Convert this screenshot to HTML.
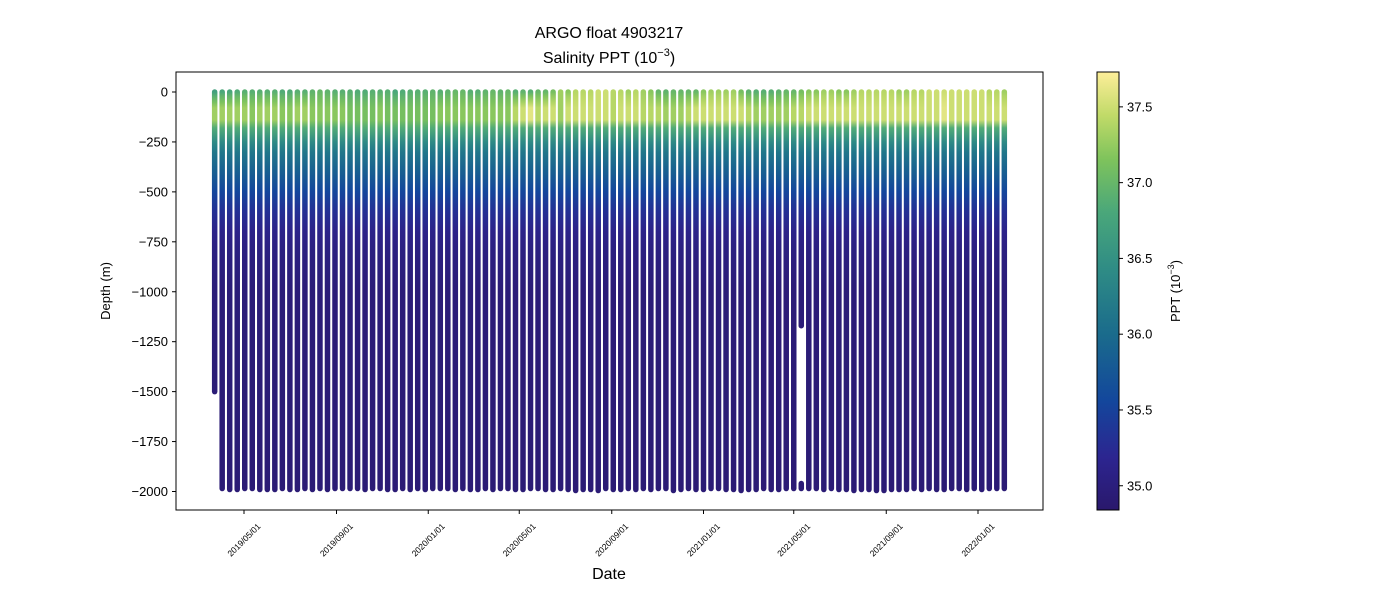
<!DOCTYPE html>
<html><head><meta charset="utf-8"><style>
body{margin:0;background:#fff;width:1400px;height:600px;overflow:hidden}
svg text{font-family:"Liberation Sans","DejaVu Sans",sans-serif;fill:#000}
</style></head><body>
<svg id="chart" width="1400" height="600" xmlns="http://www.w3.org/2000/svg">
<defs id="defs">
<linearGradient id="cbar" x1="0" y1="1" x2="0" y2="0">
<stop offset="0" stop-color="#2a186c"/><stop offset="0.12" stop-color="#2c2590"/><stop offset="0.25" stop-color="#13479c"/><stop offset="0.4" stop-color="#1a6b8c"/><stop offset="0.55" stop-color="#2f8c85"/><stop offset="0.68" stop-color="#4aa77a"/><stop offset="0.8" stop-color="#7ec35c"/><stop offset="0.9" stop-color="#c0da68"/><stop offset="1" stop-color="#fdee99"/>
</linearGradient>
</defs>
<text x="609" y="38" font-size="16" text-anchor="middle">ARGO float 4903217</text>
<text x="609" y="63" font-size="16" text-anchor="middle">Salinity PPT (10<tspan font-size="11" dy="-7">−3</tspan><tspan dy="7">)</tspan></text>
<g id="plot"></g>
<rect x="176" y="72" width="867" height="438" fill="none" stroke="#000" stroke-width="1"/>
<g id="yaxis"></g>
<g id="xaxis"></g>
<text transform="translate(110,291) rotate(-90)" font-size="13" text-anchor="middle">Depth (m)</text>
<text x="609" y="579" font-size="16" text-anchor="middle">Date</text>
<rect x="1097" y="72" width="22" height="438" fill="url(#cbar)" stroke="#000" stroke-width="1"/>
<g id="cbaxis"></g>
<text transform="translate(1180,291) rotate(-90)" font-size="13" text-anchor="middle">PPT (10<tspan font-size="9" dy="-6">−3</tspan><tspan dy="6">)</tspan></text>
</svg>
<script>
const NS="http://www.w3.org/2000/svg";
const nProfiles=106;
const startDate=Date.UTC(2019,2,23);
const cycleDays=10;
const depthLevels=[0,-20,-50,-80,-110,-140,-180,-250,-300,-400,-500,-600,-700,-800,-1000,-1500,-2000];
const deepSal=[null,null,null,null,null,null,36.85,36.4,36.15,35.85,35.55,35.3,35.12,35.03,34.96,34.94,34.93];
const surfSal=[36.7,36.8,36.8,36.85,36.9,36.9,36.9,36.9,36.9,36.85,36.85,36.9,36.9,36.95,37.0,36.95,36.9,36.9,36.9,36.85,36.85,36.9,36.9,36.9,36.8,36.85,36.9,36.9,36.9,36.95,36.9,36.95,37.0,37.0,36.9,36.9,36.95,37.0,36.95,37.0,36.9,36.95,36.9,37.0,37.0,37.1,37.3,37.2,37.4,37.4,37.4,37.5,37.5,37.4,37.4,37.3,37.4,37.3,37.2,37.0,36.95,37.0,37.0,37.0,37.0,37.2,37.3,37.3,37.3,37.3,37.1,36.95,36.9,36.9,36.9,36.95,37.0,37.0,37.1,37.2,37.2,37.3,37.3,37.2,37.2,37.3,37.4,37.4,37.4,37.4,37.4,37.3,37.3,37.4,37.4,37.5,37.5,37.5,37.5,37.5,37.5,37.5,37.5,37.4,37.4,37.3];
const peakSal=[37.3,37.3,37.3,37.3,37.3,37.2,37.3,37.3,37.3,37.2,37.2,37.3,37.3,37.2,37.2,37.2,37.2,37.2,37.1,37.1,37.1,37.1,37.2,37.1,37.1,37.1,37.1,37.1,37.1,37.1,37.2,37.2,37.2,37.2,37.2,37.2,37.2,37.2,37.2,37.2,37.4,37.5,37.6,37.4,37.5,37.5,37.3,37.5,37.5,37.5,37.5,37.5,37.5,37.4,37.5,37.5,37.5,37.4,37.4,37.4,37.3,37.3,37.3,37.4,37.5,37.5,37.5,37.5,37.5,37.5,37.5,37.4,37.3,37.3,37.3,37.3,37.3,37.4,37.4,37.5,37.5,37.5,37.5,37.5,37.5,37.5,37.5,37.5,37.5,37.5,37.5,37.5,37.5,37.5,37.5,37.5,37.5,37.6,37.5,37.5,37.5,37.5,37.5,37.5,37.5,37.5];
const bottomDepth=[-1500,-1985,-1990,-1990,-1985,-1985,-1990,-1990,-1990,-1985,-1990,-1990,-1985,-1990,-1985,-1990,-1985,-1985,-1985,-1985,-1990,-1985,-1985,-1990,-1990,-1985,-1990,-1985,-1990,-1985,-1985,-1985,-1990,-1985,-1990,-1990,-1985,-1990,-1985,-1985,-1990,-1990,-1985,-1985,-1990,-1990,-1985,-1990,-1995,-1990,-1990,-1995,-1985,-1990,-1990,-1985,-1990,-1985,-1990,-1985,-1985,-1995,-1990,-1985,-1990,-1990,-1985,-1985,-1990,-1990,-1995,-1990,-1990,-1985,-1990,-1990,-1985,-1985,-1985,-1985,-1985,-1990,-1985,-1990,-1990,-1995,-1990,-1990,-1995,-1995,-1990,-1990,-1990,-1985,-1990,-1985,-1990,-1990,-1985,-1985,-1990,-1985,-1990,-1985,-1985,-1985];
const gapProfile=78, gapTop=-1170, gapBottom=-1960;
const yTicks=[0,-250,-500,-750,-1000,-1250,-1500,-1750,-2000];
const xTickLabels=["2019/05/01","2019/09/01","2020/01/01","2020/05/01","2020/09/01","2021/01/01","2021/05/01","2021/09/01","2022/01/01"];
const cbTicks=[35.0,35.5,36.0,36.5,37.0,37.5];

const x0=Date.UTC(2019,4,1), px0=244, x1=Date.UTC(2022,0,1), px1=978;
const xScale=t=>px0+(t-x0)*(px1-px0)/(x1-x0);
const yScale=d=>92-d*0.19975;
const cmin=34.84, cmax=37.73;
const cbScale=v=>510-(v-cmin)/(cmax-cmin)*438;
const stops=[[0,[42,24,108]],[0.12,[44,37,144]],[0.25,[19,71,156]],[0.4,[26,107,140]],[0.55,[47,140,133]],[0.68,[74,167,122]],[0.8,[126,195,92]],[0.9,[192,218,104]],[1,[253,238,153]]];
function cmap(v){let t=Math.max(0,Math.min(1,(v-cmin)/(cmax-cmin)));for(let k=1;k<stops.length;k++){if(t<=stops[k][0]){const a=stops[k-1],b=stops[k],f=(t-a[0])/(b[0]-a[0]);return `rgb(${a[1].map((c,j)=>Math.round(c+(b[1][j]-c)*f)).join(',')})`;}}return 'rgb(253,238,153)';}
const svg=document.getElementById('chart'),defs=document.getElementById('defs'),plot=document.getElementById('plot');
function mk(tag,attrs,parent){const e=document.createElementNS(NS,tag);for(const k in attrs)e.setAttribute(k,attrs[k]);parent.appendChild(e);return e;}
for(let i=0;i<nProfiles;i++){
  const x=xScale(startDate+i*cycleDays*86400000);
  const sal=depthLevels.map((d,j)=>{if(j===0)return surfSal[i];if(j===1)return (surfSal[i]*2+peakSal[i])/3;if(j===2)return (surfSal[i]+peakSal[i]*2)/3;if(j>=3&&j<=5)return peakSal[i];return deepSal[j];});
  const yTop=yScale(0), yBot=yScale(bottomDepth[i]);
  const g=mk('linearGradient',{id:'pg'+i,gradientUnits:'userSpaceOnUse',x1:0,x2:0,y1:yTop,y2:yScale(-2000)},defs);
  depthLevels.forEach((d,j)=>{mk('stop',{offset:((yScale(d)-yTop)/(yScale(-2000)-yTop)).toFixed(4),'stop-color':cmap(sal[j])},g);});
  const segs=(i===gapProfile)?[[0,gapTop],[gapBottom,bottomDepth[i]]]:[[0,bottomDepth[i]]];
  segs.forEach(s=>{
    const l=mk('line',{x1:x.toFixed(2),x2:x.toFixed(2),y1:yScale(s[0]),y2:yScale(s[1]),stroke:`url(#pg${i})`,'stroke-width':5.5,'stroke-linecap':'round'},plot);
    
    
  });
}
const ya=document.getElementById('yaxis');
yTicks.forEach(v=>{const y=yScale(v);
  const t=mk('line',{x1:172,x2:176,y1:y,y2:y,stroke:'#000'},ya);
  
  
  const tx=mk('text',{x:168,y:y+4.5,'font-size':13,'text-anchor':'end'},ya);tx.textContent=v===0?'0':'−'+(-v);
  
  
});
const xa=document.getElementById('xaxis');
xTickLabels.forEach(s=>{const p=s.split('/');const x=xScale(Date.UTC(+p[0],+p[1]-1,+p[2]));
  const t=mk('line',{x1:x,x2:x,y1:510,y2:514,stroke:'#000'},xa);
  
  
  const tx=mk('text',{transform:`translate(${x+2},${542}) rotate(-45)`,'font-size':8.5,'text-anchor':'middle'},xa);tx.textContent=s;
  
  
});
const ca=document.getElementById('cbaxis');
cbTicks.forEach(v=>{const y=cbScale(v);
  const t=mk('line',{x1:1119,x2:1123,y1:y,y2:y,stroke:'#000'},ca);
  
  
  const tx=mk('text',{x:1127,y:y+4.5,'font-size':13},ca);tx.textContent=v.toFixed(1);
  
  
});
</script>
</body></html>
